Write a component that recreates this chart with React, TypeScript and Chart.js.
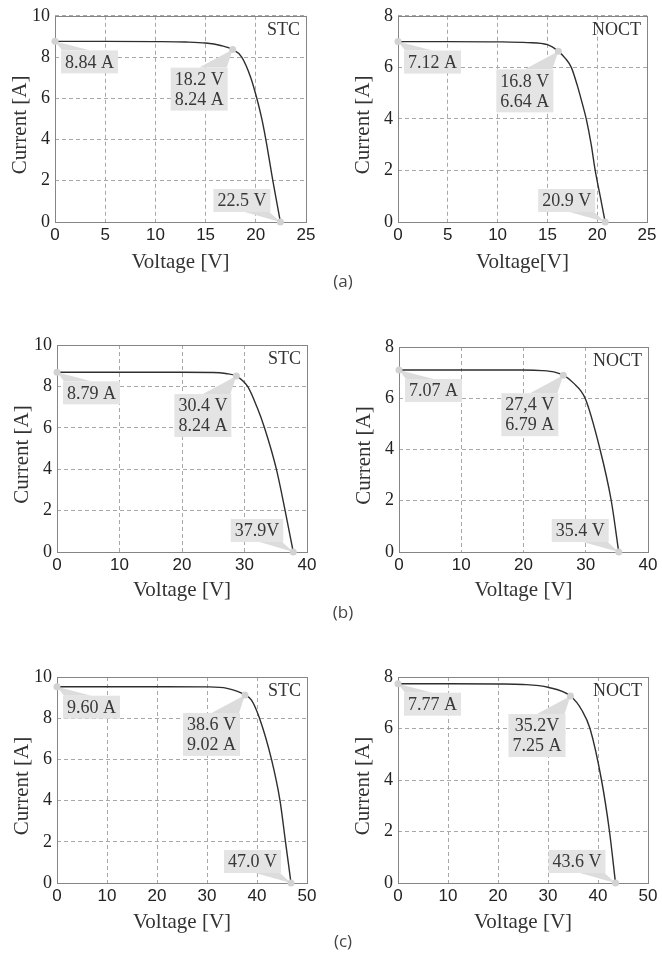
import React, { useEffect, useRef } from 'react';
import { Chart, registerables } from 'chart.js';
Chart.register(...registerables);

// ---------- data ----------
const aStcV = [0, 5, 10, 13, 15, 16.5, 17.7, 18.6, 19.5, 20.1, 20.6, 21.0, 21.7, 22.45];
const aStcI = [8.76, 8.76, 8.75, 8.73, 8.68, 8.56, 8.36, 8.0, 7.0, 6.0, 5.0, 4.0, 2.0, 0];
const aStcMarkV = [0, 17.7, 22.45];
const aStcMarkI = [8.76, 8.36, 0];
const aStcText = [['8.84 A'], ['18.2 V', '8.24 A'], ['22.5 V']];

const aNoctV = [0, 5, 10, 13, 15, 16.1, 16.8, 17.4, 18.0, 18.5, 18.9, 19.4, 19.8, 20.3, 20.8];
const aNoctI = [7.0, 7.0, 6.99, 6.96, 6.88, 6.62, 6.35, 6.0, 5.3, 4.6, 4.0, 3.0, 2.0, 1.0, 0];
const aNoctMarkV = [0, 16.1, 20.8];
const aNoctMarkI = [7.0, 6.62, 0];
const aNoctText = [['7.12 A'], ['16.8 V', '6.64 A'], ['20.9 V']];

const bStcV = [0, 10, 20, 25, 27, 28.7, 30.5, 32.0, 33.2, 35.1, 36.5, 37.8];
const bStcI = [8.68, 8.68, 8.68, 8.67, 8.62, 8.5, 8.0, 7.0, 6.0, 4.0, 2.0, 0];
const bStcMarkV = [0, 28.7, 37.8];
const bStcMarkI = [8.68, 8.5, 0];
const bStcText = [['8.79 A'], ['30.4 V', '8.24 A'], ['37.9V']];

const bNoctV = [0, 10, 20, 23, 25, 26.4, 28, 29.9, 32.3, 34.1, 35.3];
const bNoctI = [7.1, 7.1, 7.1, 7.08, 7.02, 6.9, 6.6, 6.0, 4.0, 2.0, 0];
const bNoctMarkV = [0, 26.4, 35.3];
const bNoctMarkI = [7.1, 6.9, 0];
const bNoctText = [['7.07 A'], ['27,4 V', '6.79 A'], ['35.4 V']];

const cStcV = [0, 10, 20, 30, 34, 37.6, 38.9, 40.5, 42.9, 44.6, 45.7, 46.8];
const cStcI = [9.53, 9.53, 9.53, 9.52, 9.45, 9.13, 8.88, 8.0, 6.0, 4.0, 2.0, 0];
const cStcMarkV = [0, 37.6, 46.8];
const cStcMarkI = [9.53, 9.13, 0];
const cStcText = [['9.60 A'], ['38.6 V', '9.02 A'], ['47.0 V']];

const cNoctV = [0, 10, 20, 25, 30, 34.5, 36.8, 38.4, 40.7, 42.3, 43.5];
const cNoctI = [7.74, 7.74, 7.73, 7.71, 7.6, 7.26, 6.7, 6.0, 4.0, 2.0, 0];
const cNoctMarkV = [0, 34.5, 43.5];
const cNoctMarkI = [7.74, 7.26, 0];
const cNoctText = [['7.77 A'], ['35.2V', '7.25 A'], ['43.6 V']];

const captions = ['(a)', '(b)', '(c)'];

// ---------- styles / layout ----------
const SERIF = '"Liberation Serif", "DejaVu Serif", serif';
const SANS = '"Liberation Sans", Arial, sans-serif';
const BOX = '#e4e4e4';
const WEDGE = '#dcdcdc';
const DOT = '#d2d2d2';
const TXT = '#383838';

type Panel = {
  v: number[]; i: number[]; mv: number[]; mi: number[]; text: string[][];
  cond: string; xMax: number; xStep: number; yMax: number; xTitle: string;
  canvas: { left: number; top: number; width: number; height: number };
  area: { x0: number; x1: number; y0: number; y1: number };
};

const panels: Panel[] = [
  { v: aStcV, i: aStcI, mv: aStcMarkV, mi: aStcMarkI, text: aStcText, cond: 'STC', xMax: 25, xStep: 5, yMax: 10, xTitle: 'Voltage [V]',
    canvas: { left: 0, top: 0, width: 330, height: 278 }, area: { x0: 55, x1: 306, y0: 15, y1: 222 } },
  { v: aNoctV, i: aNoctI, mv: aNoctMarkV, mi: aNoctMarkI, text: aNoctText, cond: 'NOCT', xMax: 25, xStep: 5, yMax: 8, xTitle: 'Voltage[V]',
    canvas: { left: 330, top: 0, width: 332, height: 278 }, area: { x0: 398, x1: 647, y0: 15, y1: 222 } },
  { v: bStcV, i: bStcI, mv: bStcMarkV, mi: bStcMarkI, text: bStcText, cond: 'STC', xMax: 40, xStep: 10, yMax: 10, xTitle: 'Voltage [V]',
    canvas: { left: 0, top: 320, width: 330, height: 286 }, area: { x0: 57, x1: 307, y0: 345, y1: 552 } },
  { v: bNoctV, i: bNoctI, mv: bNoctMarkV, mi: bNoctMarkI, text: bNoctText, cond: 'NOCT', xMax: 40, xStep: 10, yMax: 8, xTitle: 'Voltage [V]',
    canvas: { left: 330, top: 320, width: 332, height: 286 }, area: { x0: 399, x1: 648, y0: 347, y1: 552 } },
  { v: cStcV, i: cStcI, mv: cStcMarkV, mi: cStcMarkI, text: cStcText, cond: 'STC', xMax: 50, xStep: 10, yMax: 10, xTitle: 'Voltage [V]',
    canvas: { left: 0, top: 650, width: 330, height: 288 }, area: { x0: 57, x1: 307, y0: 677, y1: 883 } },
  { v: cNoctV, i: cNoctI, mv: cNoctMarkV, mi: cNoctMarkI, text: cNoctText, cond: 'NOCT', xMax: 50, xStep: 10, yMax: 8, xTitle: 'Voltage [V]',
    canvas: { left: 330, top: 650, width: 332, height: 288 }, area: { x0: 398, x1: 648, y0: 677, y1: 883 } },
];

const captionTops = [270, 601, 930];

function makePlugin(p: Panel) {
  return {
    id: 'ivDecor',
    beforeDatasetsDraw(chart: any) {
      const { ctx, chartArea: ca, scales } = chart;
      const xs = scales.x, ys = scales.y;
      ctx.save();
      // frame
      ctx.strokeStyle = '#858585';
      ctx.lineWidth = 1;
      ctx.setLineDash([]);
      const l = Math.round(ca.left) + 0.5, t = Math.round(ca.top) + 0.5;
      ctx.strokeRect(l, t, Math.round(ca.right) - Math.round(ca.left), Math.round(ca.bottom) - Math.round(ca.top));

      // callouts
      ctx.font = '18px ' + SERIF;
      const lineH = 20, padX = 4, padY = 1.5;
      p.text.forEach((lines, k) => {
        const px = xs.getPixelForValue(p.mv[k]);
        const py = ys.getPixelForValue(p.mi[k]);
        const w = Math.max(...lines.map((s) => ctx.measureText(s).width)) + padX * 2;
        const h = lines.length * lineH + padY * 2;
        let bx = 0, by = 0;
        let tri: number[][] = [];
        if (k === 0) {
          bx = px + 6; by = py + 9;
          tri = [[px, py], [bx + 1, by], [bx + w * 0.5, by]];
        } else if (k === 1) {
          bx = px - 5 - w; by = py + 18;
          tri = [[px, py], [bx + w * 0.5, by], [bx + w - 1, by]];
        } else {
          bx = px - 10 - w; by = py - 10 - h;
          tri = [[px, py], [bx + w * 0.55, by + h], [bx + w - 1, by + h]];
        }
        ctx.fillStyle = WEDGE;
        ctx.beginPath();
        ctx.moveTo(tri[0][0], tri[0][1]);
        ctx.lineTo(tri[1][0], tri[1][1]);
        ctx.lineTo(tri[2][0], tri[2][1]);
        ctx.closePath();
        ctx.fill();
        ctx.fillStyle = BOX;
        ctx.fillRect(bx, by, w, h);
        ctx.fillStyle = TXT;
        ctx.textAlign = 'center';
        ctx.textBaseline = 'middle';
        lines.forEach((s, j) => {
          ctx.fillText(s, bx + w / 2, by + padY + lineH * (j + 0.5) + 1);
        });
      });

      // condition label
      ctx.fillStyle = '#333';
      ctx.textAlign = 'right';
      ctx.textBaseline = 'top';
      ctx.font = '18px ' + SERIF;
      ctx.fillText(p.cond, ca.right - 6, ca.top + 5);
      ctx.restore();
    },
    afterDraw(chart: any) {
      const { ctx, chartArea: ca } = chart;
      ctx.save();
      ctx.translate(ca.left - 35, (ca.top + ca.bottom) / 2 + 6);
      ctx.rotate(-Math.PI / 2);
      ctx.font = '21px ' + SERIF;
      ctx.fillStyle = '#333';
      ctx.textAlign = 'center';
      ctx.textBaseline = 'middle';
      ctx.fillText('Current [A]', 0, 0);
      ctx.restore();
    },
  };
}

function IVPanel({ p }: { p: Panel }) {
  const ref = useRef<HTMLCanvasElement>(null);
  useEffect(() => {
    const c = p.canvas, a = p.area;
    const yW = a.x0 - c.left;
    const xH = c.top + c.height - a.y1;
    const padTop = a.y0 - c.top;
    const padRight = c.left + c.width - a.x1;
    const chart = new Chart(ref.current as HTMLCanvasElement, {
      type: 'line',
      data: {
        datasets: [
          {
            data: p.v.map((x, k) => ({ x, y: p.i[k] })),
            borderColor: '#2e2e2e',
            borderWidth: 1.4,
            pointRadius: 0,
            cubicInterpolationMode: 'monotone',
            fill: false,
            order: 2,
          } as any,
          {
            data: p.mv.map((x, k) => ({ x, y: p.mi[k] })),
            showLine: false,
            pointRadius: 3.5,
            pointBackgroundColor: DOT,
            pointBorderWidth: 0,
            borderColor: DOT,
            clip: false,
            order: 1,
          } as any,
        ],
      },
      options: {
        responsive: false,
        animation: false,
        events: [],
        layout: { padding: { top: padTop, right: padRight, left: 0, bottom: 0 } },
        plugins: { legend: { display: false }, tooltip: { enabled: false } },
        scales: {
          x: {
            type: 'linear',
            min: 0,
            max: p.xMax,
            afterFit: (s: any) => { s.height = xH; },
            ticks: { stepSize: p.xStep, font: { family: SANS, size: 17 }, color: '#222', padding: 3, maxRotation: 0 },
            grid: { color: '#a8a8a8', lineWidth: 1, drawTicks: false },
            border: { display: false, dash: [4, 3] },
            title: { display: true, text: p.xTitle, font: { family: SERIF, size: 21 }, color: '#333', padding: { top: 0, bottom: 3 } },
          },
          y: {
            type: 'linear',
            min: 0,
            max: p.yMax,
            afterFit: (s: any) => { s.width = yW; },
            ticks: { stepSize: 2, font: { family: SERIF, size: 18 }, color: '#222', padding: 5 },
            grid: { color: '#a8a8a8', lineWidth: 1, drawTicks: false },
            border: { display: false, dash: [4, 3] },
          },
        },
      },
      plugins: [makePlugin(p)],
    } as any);
    return () => chart.destroy();
  }, []);
  const c = p.canvas;
  return (
    <canvas
      ref={ref}
      width={c.width}
      height={c.height}
      style={{ position: 'absolute', left: c.left, top: c.top, width: c.width, height: c.height }}
    />
  );
}

export default function App() {
  return (
    <div style={{ position: 'absolute', left: 0, top: 0, width: 662, height: 953, background: '#fff', overflow: 'hidden' }}>
      {panels.map((p, k) => <IVPanel key={k} p={p} />)}
      {captions.map((t, k) => (
        <div
          key={t}
          style={{
            position: 'absolute', left: 313, width: 60, top: captionTops[k], height: 22, lineHeight: '22px',
            textAlign: 'center', fontFamily: '"Open Sans", Lato, sans-serif', fontSize: 17, color: '#444', zIndex: 2,
          }}
        >
          {t}
        </div>
      ))}
    </div>
  );
}
